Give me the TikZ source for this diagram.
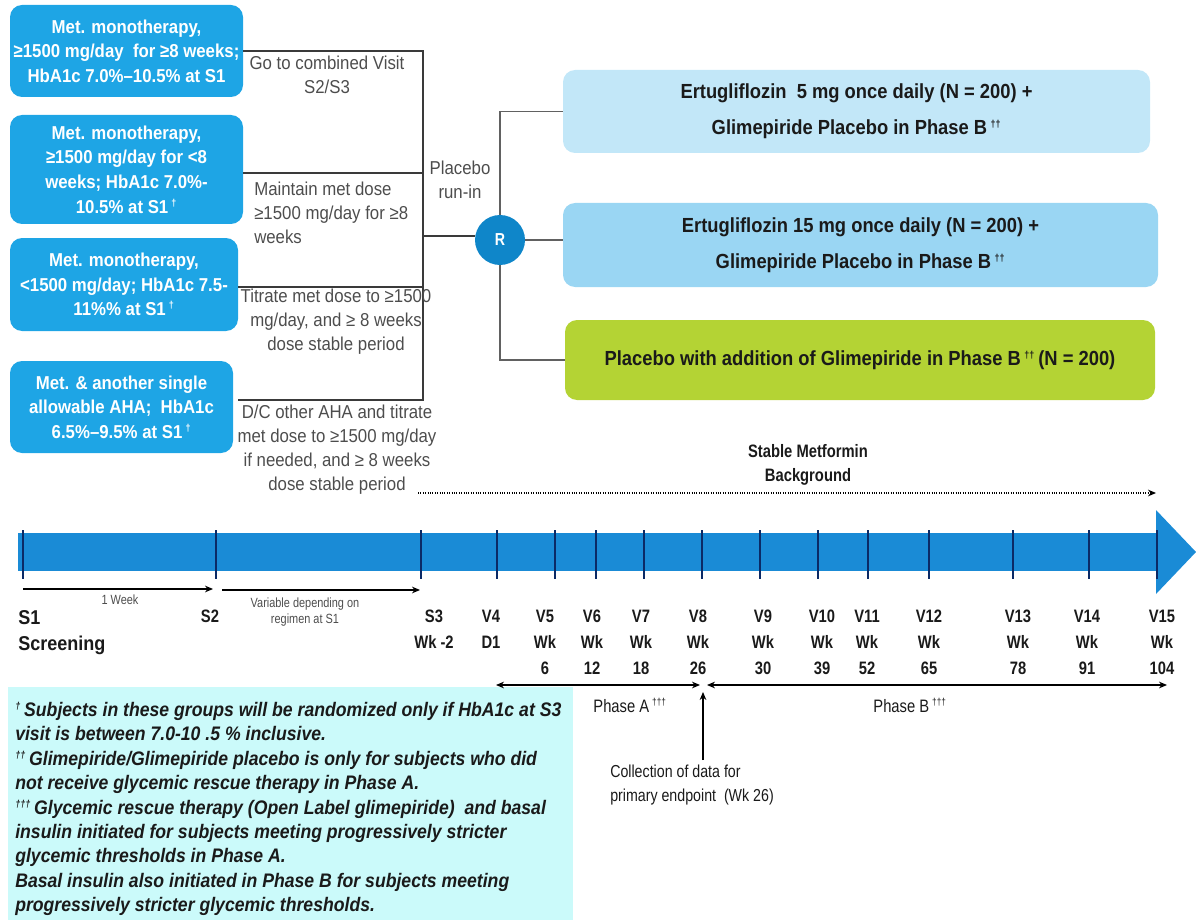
\documentclass[tikz,border=0pt]{standalone}
\usepackage{fontspec}
\setmainfont{Liberation Sans}
\newfontfamily\nar{Liberation Sans}[FakeStretch=0.82]
\newfontfamily\narw{Liberation Sans}[FakeStretch=0.9]
\usetikzlibrary{arrows.meta}
\definecolor{lblue}{HTML}{1EA5E5}
\definecolor{barblue}{HTML}{1A8BD6}
\definecolor{tickcol}{HTML}{0B2A66}
\definecolor{boxA}{HTML}{C2E7F8}
\definecolor{boxB}{HTML}{9AD6F3}
\definecolor{boxC}{HTML}{B4D334}
\definecolor{rcol}{HTML}{0F86C9}
\definecolor{fnbg}{HTML}{CBFAFA}
\definecolor{graytxt}{HTML}{4D4D4D}
\definecolor{darktxt}{HTML}{1A1A1A}
\definecolor{linecol}{HTML}{3A3A3A}
\newcommand{\dg}[1]{\textsuperscript{\fontsize{7.5}{7.5}\selectfont #1}}
\begin{document}
\begin{tikzpicture}[x=0.75pt,y=-0.75pt,
  lbox/.style={fill=lblue, rounded corners=9pt, text=white, align=center, inner sep=0pt,
    font=\narw\bfseries\fontsize{14}{18.5}\selectfont},
  rbox/.style={rounded corners=9pt, text=darktxt, align=center, inner sep=0pt,
    font=\narw\bfseries\fontsize{15.3}{27}\selectfont},
  midtxt/.style={text=graytxt, align=center, inner sep=0pt,
    font=\narw\fontsize{14}{18}\selectfont},
  bline/.style={draw=linecol, line width=0.9pt},
  brline/.style={draw=linecol!80, line width=1pt},
  tickline/.style={draw=tickcol, line width=2.2pt},
  tl/.style={anchor=north, align=center, inner sep=0pt, text=darktxt,
    font=\nar\bfseries\fontsize{13.5}{19.5}\selectfont},
  small/.style={text=graytxt, align=center, inner sep=0pt,
    font=\nar\fontsize{10}{11.5}\selectfont},
  thinarrow/.style={draw=black, line width=0.8pt, -{Stealth[length=6pt,width=5pt]}},
  phasearrow/.style={draw=black, line width=0.8pt, {Stealth[length=6pt,width=5pt]}-{Stealth[length=6pt,width=5pt]}}
]
\path[use as bounding box] (0,0) rectangle (1196,920);

% left boxes
\node[lbox, minimum width=174.75pt, minimum height=69pt] (b1) at (126.5,51)
  {Met. monotherapy,\\ ≥1500 mg/day\ \ for ≥8 weeks;\\ HbA1c 7.0\%–10.5\% at S1};
\node[lbox, minimum width=174.75pt, minimum height=81.75pt] (b2) at (126.5,169.5)
  {Met. monotherapy,\\ ≥1500 mg/day for <8\\ weeks; HbA1c 7.0\%-\\ 10.5\% at S1\,\dg{†}};
\node[lbox, minimum width=171pt, minimum height=69.75pt] (b3) at (124,284.5)
  {Met. monotherapy,\\ <1500 mg/day; HbA1c 7.5-\\ 11\%\% at S1\,\dg{†}};
\node[lbox, minimum width=167.25pt, minimum height=69pt] (b4) at (121.5,407)
  {Met. \& another single\\ allowable AHA;\ \ HbA1c\\ 6.5\%–9.5\% at S1\,\dg{†}};

% bracket
\coordinate (j1) at (423,51);
\coordinate (j2) at (423,173);
\coordinate (j3) at (423,287);
\coordinate (j4) at (423,400);
\coordinate (s3) at (238,287);
\coordinate (s4) at (238,400);
\coordinate (jm) at (423,236);
\draw[bline] (b1.east) -- (j1) -- (j4) -- (s4);
\draw[bline] (b2.east |- j2) -- (j2);
\draw[bline] (s3) -- (j3);

% middle texts
\node[midtxt] (t1) at (327,75) {Go to combined Visit\\S2/S3};
\node[midtxt, align=left, anchor=west] (t2) at (254,213) {Maintain met dose\\≥1500 mg/day for ≥8\\weeks};
\node[midtxt] (t3) at (336,322) {Titrate met dose to ≥1500\\mg/day, and ≥ 8 weeks\\dose stable period};
\node[midtxt] (t4) at (337,450) {D/C other AHA and titrate\\met dose to ≥1500 mg/day\\if needed, and ≥ 8 weeks\\dose stable period};
\node[midtxt] (pr) at (460,180) {Placebo\\run-in};

% randomisation
\node[circle, fill=rcol, text=white, minimum size=37.5pt, inner sep=0pt,
  font=\nar\bfseries\fontsize{13}{15}\selectfont] (R) at (500,240) {R};
\draw[bline] (jm) -- (R.west |- jm);

% right boxes
\node[rbox, fill=boxA, minimum width=440.25pt, minimum height=62.25pt] (bA) at (856.5,111.5)
  {Ertugliflozin\ \ 5 mg once daily (N = 200) +\\ Glimepiride Placebo in Phase B\,\dg{††}};
\node[rbox, fill=boxB, minimum width=446.25pt, minimum height=63pt] (bB) at (860.5,245)
  {Ertugliflozin 15 mg once daily (N = 200) +\\ Glimepiride Placebo in Phase B\,\dg{††}};
\node[rbox, fill=boxC, minimum width=442.5pt, minimum height=60pt] (bC) at (860,360)
  {Placebo with addition of Glimepiride in Phase B\,\dg{††}\,(N = 200)};
\draw[brline] (R.north) |- (bA.west);
\draw[brline] (R.east) -- (bB.west |- R.east);
\draw[brline] (R.south) |- (bC.west);

% stable metformin
\node[anchor=center, align=center, inner sep=0pt, text=darktxt,
  font=\nar\bfseries\fontsize{13.5}{18.5}\selectfont] (smb) at (808,465) {Stable Metformin\\Background};
\coordinate (dl) at (418,493);
\coordinate (dr) at (1156,493);
\draw[densely dotted, line width=0.8pt, -{Stealth[length=6pt,width=5pt]}] (dl) -- (dr);

% timeline bar
\fill[barblue] (18,533) rectangle (1158,571);
\fill[barblue] (1156,510) -- (1196,552) -- (1156,594) -- cycle;
\foreach \x in {23,216,421,497,555,596,644,702,760,818,868,929,1013,1089,1157}
  \draw[tickline] (\x,530) -- (\x,579);

% timeline arrows
\coordinate (a1) at (23,589);
\coordinate (a2) at (213,589);
\coordinate (a3) at (222,590);
\coordinate (a4) at (420,590);
\draw[thinarrow] (a1) -- (a2);
\draw[thinarrow] (a3) -- (a4);
\node[small] (wk1) at (120,600) {1 Week};
\node[small] (var) at (305,612) {Variable depending on\\regimen at S1};

% timeline labels
\node[tl, anchor=north west, align=left, font=\narw\bfseries\fontsize{15}{19.5}\selectfont] (lS1) at (18,610) {S1\\Screening};
\node[tl] (lS2) at (210,610) {S2};
\node[tl] (lS3) at (434,610) {S3\\Wk -2};
\node[tl] (lV4) at (491,610) {V4\\D1};
\node[tl] (lV5) at (545,610) {V5\\Wk\\6};
\node[tl] (lV6) at (592,610) {V6\\Wk\\12};
\node[tl] (lV7) at (641,610) {V7\\Wk\\18};
\node[tl] (lV8) at (698,610) {V8\\Wk\\26};
\node[tl] (lV9) at (763,610) {V9\\Wk\\30};
\node[tl] (lV10) at (822,610) {V10\\Wk\\39};
\node[tl] (lV11) at (867,610) {V11\\Wk\\52};
\node[tl] (lV12) at (929,610) {V12\\Wk\\65};
\node[tl] (lV13) at (1018,610) {V13\\Wk\\78};
\node[tl] (lV14) at (1087,610) {V14\\Wk\\91};
\node[tl] (lV15) at (1162,610) {V15\\Wk\\104};

% footnote box
\fill[fnbg] (8,687) rectangle (573,920);
\node[anchor=north west, align=left, inner sep=0pt, text=darktxt,
  font=\narw\bfseries\itshape\fontsize{14.7}{18.3}\selectfont] (fn) at (15,702)
  {\dg{†}\,Subjects in these groups will be randomized only if HbA1c at S3\\
   visit is between 7.0-10 .5 \% inclusive.\\
   \dg{††}\,Glimepiride/Glimepiride placebo is only for subjects who did\\
   not receive glycemic rescue therapy in Phase A.\\
   \dg{†††}\,Glycemic rescue therapy (Open Label glimepiride)\ \ and basal\\
   insulin initiated for subjects meeting progressively stricter\\
   glycemic thresholds in Phase A.\\
   Basal insulin also initiated in Phase B for subjects meeting\\
   progressively stricter glycemic thresholds.};

% phase arrows
\coordinate (pa1) at (496,685);
\coordinate (pa2) at (700,685);
\coordinate (pb1) at (707,685);
\coordinate (pb2) at (1167,685);
\draw[phasearrow] (pa1) -- (pa2);
\draw[phasearrow] (pb1) -- (pb2);
\node[midtxt, text=darktxt, font=\nar\fontsize{13.5}{18}\selectfont] (phA) at (630,705) {Phase A\,\dg{†††}};
\node[midtxt, text=darktxt, font=\nar\fontsize{13.5}{18}\selectfont] (phB) at (910,705) {Phase B\,\dg{†††}};

% collection
\node[midtxt, text=darktxt, anchor=north west, align=left, font=\nar\fontsize{13}{18}\selectfont] (coll) at (610,765)
  {Collection of data for\\primary endpoint\ \ (Wk 26)};
\coordinate (cs) at (703,760);
\coordinate (ce) at (703,692);
\draw[thinarrow] (cs) -- (ce);
\end{tikzpicture}
\end{document}
